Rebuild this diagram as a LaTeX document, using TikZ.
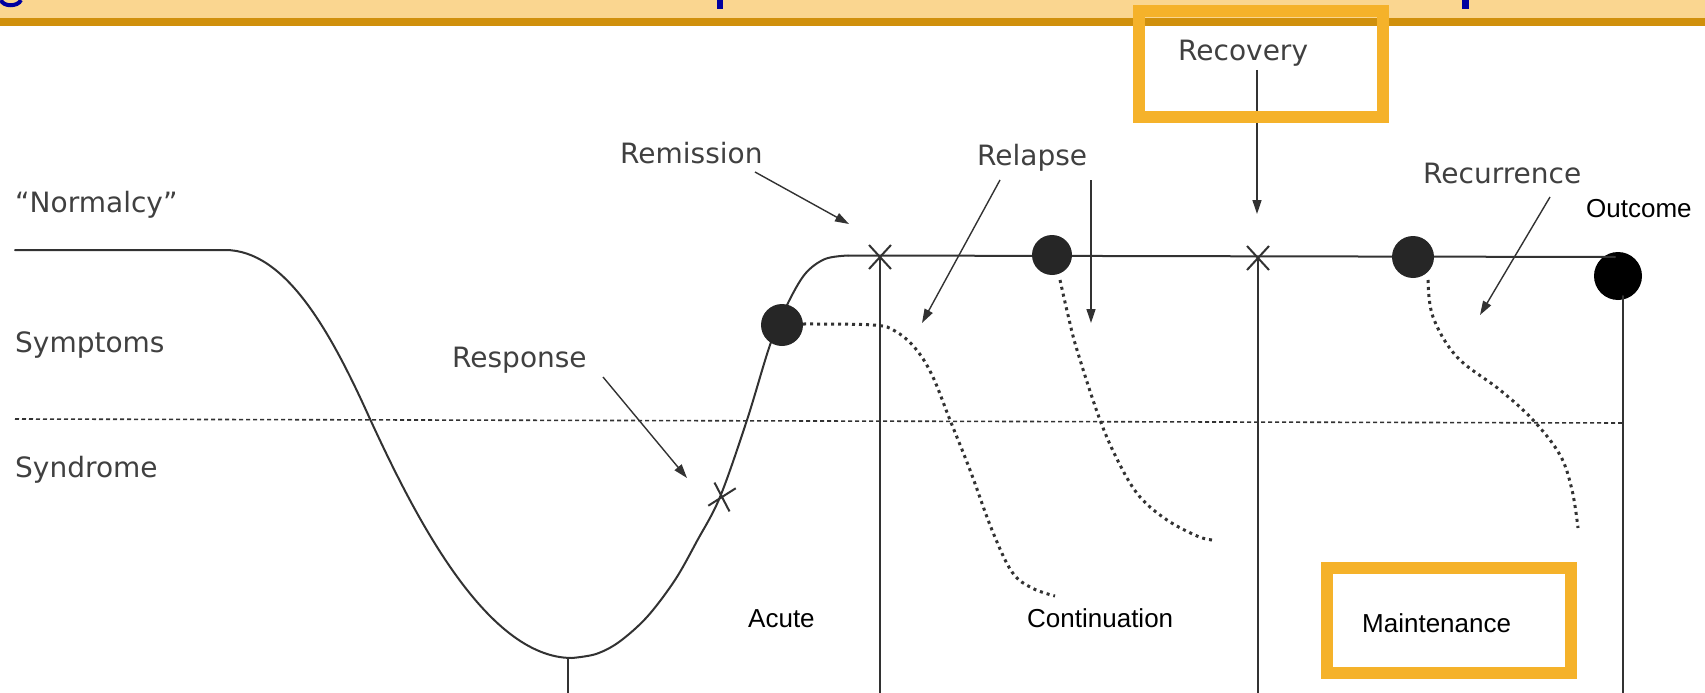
\documentclass[tikz,border=0pt]{standalone}
\usepackage{fontspec}
\setmainfont{Liberation Sans}
\newfontfamily\scanfont{DejaVu Sans}
\usetikzlibrary{arrows.meta,shapes.misc}
\definecolor{bannerlight}{RGB}{250,214,144}
\definecolor{bannerdark}{RGB}{208,144,12}
\definecolor{boxorange}{RGB}{245,178,42}
\definecolor{titleblue}{RGB}{0,0,160}
\definecolor{ink}{RGB}{50,50,50}
\definecolor{scantext}{RGB}{64,64,64}
\begin{document}
\begin{tikzpicture}[x=1pt,y=-1pt,
  scanlabel/.style={font=\scanfont\fontsize{28}{30}\selectfont, text=scantext, inner sep=0pt, anchor=base west},
  phaselabel/.style={font=\fontsize{26}{28}\selectfont, text=black, inner sep=0pt, anchor=base west},
  curveline/.style={draw=ink, line width=2pt, line cap=round, line join=round},
  dotline/.style={draw=ink, line width=3pt, dash pattern=on 3pt off 4pt},
  threshold/.style={draw=ink, line width=1.6pt, dash pattern=on 4pt off 3pt},
  arr/.style={draw=ink, line width=1.4pt, -{Triangle[length=14pt,width=9pt]}},
  bigdot/.style={circle, fill=black!85, inner sep=0pt, minimum size=#1},
  xmark/.style={cross out, draw=ink, line width=2pt, minimum width=20pt, minimum height=22pt, inner sep=0pt},
  hlbox/.style={draw=boxorange, line width=12pt}
]
\useasboundingbox (0,0) rectangle (1705,693);
% banner
\fill[bannerlight] (0,0) rectangle (1705,18);
\fill[bannerdark] (0,18) rectangle (1705,26);
\draw[titleblue, line width=4pt] (1,0) .. controls (3,7) and (18,7) .. (21,0);
\fill[titleblue] (717,0) rectangle (723,9);
\fill[titleblue] (1462,0) rectangle (1469,9);

% threshold
\coordinate (thrL) at (15,419);
\coordinate (thrR) at (1623,423);
\draw[threshold] (thrL) -- (thrR);

% labels
\node[scanlabel] (normalcy) at (15,212) {“Normalcy”};
\node[scanlabel] (symptoms) at (15,352) {Symptoms};
\node[scanlabel] (syndrome) at (15,477) {Syndrome};
\node[scanlabel] (response) at (452,367) {Response};
\node[scanlabel] (remission) at (620,163) {Remission};
\node[scanlabel] (relapse) at (977,165) {Relapse};
\node[scanlabel] (recurrence) at (1423,183) {Recurrence};
\node[scanlabel] (recovery) at (1178,60) {Recovery};
\node[phaselabel] (outcomeT) at (1586,217) {Outcome};
\node[phaselabel] (acute) at (748,627) {Acute};
\node[phaselabel] (continuation) at (1027,627) {Continuation};
\node[phaselabel] (maintenance) at (1362,632) {Maintenance};

% main course
\coordinate (startN) at (15,250);
\coordinate (shoulder) at (225,250);
\coordinate (inflect) at (370,419);
\coordinate (minA) at (572,658);
\draw[curveline] (startN) -- (shoulder) .. controls (285,250) and (330,330) .. (inflect) .. controls (412,510) and (485,658) .. (minA);
\draw[curveline] plot[smooth, tension=0.55] coordinates {(572,658) (596,654) (619,642) (647,617) (675,580) (697,541) (720,497) (747,420) (770,345) (787,305) (805,274) (825,259) (848,255.5)};
\coordinate (plateau) at (848,255.5);
\node[circle, fill=black, inner sep=0pt, minimum size=48pt] (outcome) at (1618,276) {};
\draw[curveline] (plateau) -- (1615,257);

% dotted relapse / recurrence courses
\draw[dotline] plot[smooth, tension=0.6] coordinates {(803,324) (873,325) (895,331) (915,348) (932,375) (950,420) (970,470) (992,530) (1012,572) (1032,588) (1055,596)};
\draw[dotline] plot[smooth, tension=0.6] coordinates {(1060,280) (1068,315) (1077,350) (1100,420) (1120,465) (1140,497) (1167,520) (1197,536) (1212,540)};
\draw[dotline] plot[smooth, tension=0.6] coordinates {(1428,280) (1433,317) (1457,357) (1500,390) (1533,420) (1560,455) (1572,490) (1578,528)};

% markers
\node[xmark, rotate=-15] (xresp) at (722,497) {};
\node[xmark] (xrem) at (880,257) {};
\node[xmark] (xrec) at (1258,258) {};
\node[bigdot=42pt] (respdot) at (782,325) {};
\node[bigdot=40pt] (reldot) at (1052,255) {};
\node[bigdot=42pt] (recdot) at (1413,257) {};

% phase dividers
\coordinate (botA) at (568,693);
\coordinate (topA) at (568,658);
\coordinate (botB) at (880,693);
\coordinate (botC) at (1258,693);
\coordinate (topD) at (1623,296);
\coordinate (botD) at (1623,693);
\draw[curveline] (topA) -- (botA);
\draw[curveline] (xrem.center) -- (botB);
\draw[curveline] (xrec.center) -- (botC);
\draw[curveline] (topD) -- (botD);

% annotation arrows
\coordinate (respA) at (603,377);
\coordinate (respB) at (687,478);
\coordinate (remA) at (755,172);
\coordinate (remB) at (849,224);
\coordinate (relA) at (1000,180);
\coordinate (relB) at (922,323);
\coordinate (relC) at (1091,180);
\coordinate (relD) at (1091,323);
\coordinate (recA) at (1257,70);
\coordinate (recB) at (1257,214);
\coordinate (curA) at (1550,197);
\coordinate (curB) at (1480,315);
\draw[arr] (respA) -- (respB);
\draw[arr] (remA) -- (remB);
\draw[arr] (relA) -- (relB);
\draw[arr] (relC) -- (relD);
\draw[arr] (recA) -- (recB);
\draw[arr] (curA) -- (curB);

% highlight boxes
\draw[hlbox] (1139,11) rectangle (1383,117);
\draw[hlbox] (1327,568) rectangle (1571,673);
\end{tikzpicture}
\end{document}
